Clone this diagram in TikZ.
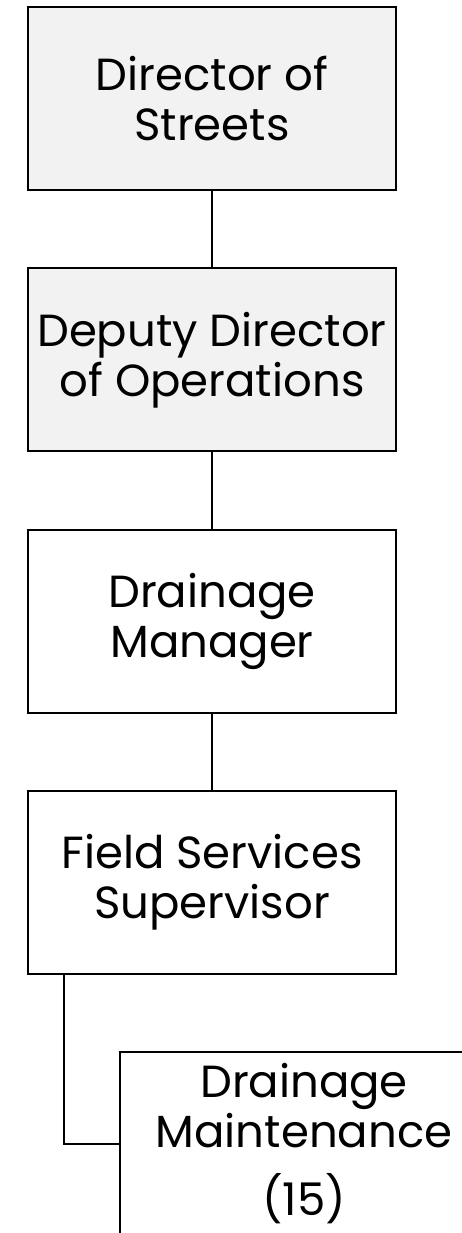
\documentclass[tikz,border=0pt]{standalone}
\usepackage{fontspec}
\setmainfont{Poppins}
\usetikzlibrary{positioning}

\tikzset{
  unitbox/.style={draw, line width=2pt, minimum width=368pt, minimum height=183pt,
    align=center, font=\fontsize{45}{50}\selectfont, inner sep=0pt},
  headbox/.style={unitbox, fill=black!5},
  link/.style={line width=2pt}
}

\begin{document}
\begin{tikzpicture}[x=1pt, y=-1pt, node distance=261.3pt]
\useasboundingbox (0,0) rectangle (462,1233);
\clip (0,0) rectangle (462,1233);

\node[headbox] (dir) at (212,98.5)     {Director of\\Streets};
\node[headbox] (dep) [below of=dir]    {Deputy Director\\of Operations};
\node[unitbox] (drm) [below of=dep]    {Drainage\\Manager};
\node[unitbox] (fss) [below of=drm]    {Field Services\\Supervisor};
\node[unitbox] (dmt) [below of=fss, xshift=92pt] {Drainage\\Maintenance\\[18pt](15)};

\draw[link] (dir) -- (dep);
\draw[link] (dep) -- (drm);
\draw[link] (drm) -- (fss);
\draw[link] ([xshift=37pt]fss.south west) |- (dmt.west);

\end{tikzpicture}
\end{document}
